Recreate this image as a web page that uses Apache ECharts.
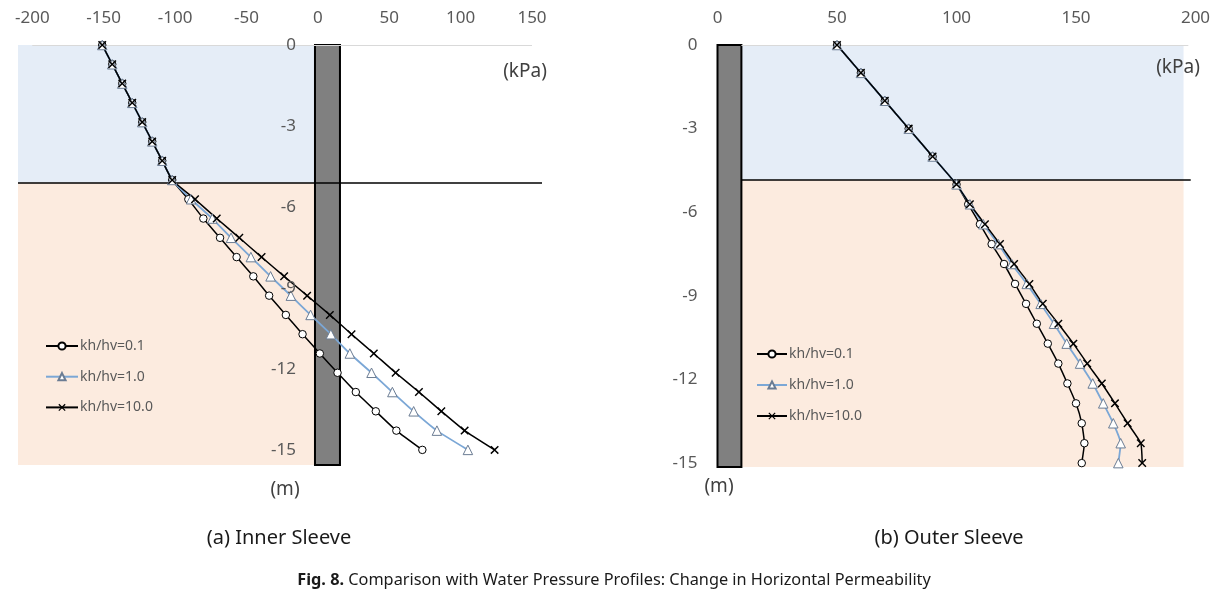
<!DOCTYPE html>
<html>
<head>
<meta charset="utf-8">
<script src="https://cdn.jsdelivr.net/npm/echarts@6/dist/echarts.min.js"></script>
<style>html,body{margin:0;padding:0;background:#fff}#c{width:1228px;height:602px}</style>
</head>
<body>
<div id="c"></div>
<script>
// ---- Data (kPa vs depth m) ----
const seriesNames = ['kh/hv=0.1', 'kh/hv=1.0', 'kh/hv=10.0'];
const xTickLabelsInner = [-200, -150, -100, -50, 0, 50, 100, 150];
const xTickLabelsOuter = [0, 50, 100, 150, 200];
const yTickLabels = [0, -3, -6, -9, -12, -15];

const innerDepth = [0, -0.714, -1.429, -2.143, -2.857, -3.571, -4.286, -5,
  -5.714, -6.429, -7.143, -7.857, -8.571, -9.286, -10, -10.714, -11.429, -12.143, -12.857, -13.571, -14.286, -15];
const innerK01 = [-151, -144, -137, -130, -123, -116, -109, -102,
  -90.7, -80.2, -68.5, -56.9, -45.2, -34.1, -22.4, -10.7, 1.4, 13.8, 26.6, 40.6, 55, 73.2];
const innerK1 = [-151, -144, -137, -130, -123, -116, -109, -102,
  -88.8, -73.9, -60.8, -46.9, -33.1, -18.9, -5.1, 9.1, 22.4, 37.6, 52.2, 67.1, 83.4, 105.1];
const innerK10 = [-151, -144, -137, -130, -123, -116, -109, -102,
  -86, -70.8, -55, -39.4, -23.6, -7.5, 8.4, 23.6, 39.2, 54.5, 70.8, 86.5, 102.8, 123.8];

const outerDepth = [0, -1, -2, -3, -4, -5,
  -5.714, -6.429, -7.143, -7.857, -8.571, -9.286, -10, -10.714, -11.429, -12.143, -12.857, -13.571, -14.286, -15];
const outerK01 = [50, 60, 70, 80, 90, 100,
  104.9, 109.8, 114.7, 119.9, 124.5, 129.1, 133.6, 138.2, 142.6, 146.4, 150.0, 152.4, 153.5, 152.4];
const outerK1 = [50, 60, 70, 80, 90, 100,
  105.6, 111.2, 117.5, 123.1, 129.4, 135.2, 140.8, 146.1, 151.7, 157.0, 161.4, 165.6, 168.7, 167.7];
const outerK10 = [50, 60, 70, 80, 90, 100,
  105.6, 111.9, 118.2, 124.1, 130.5, 136.1, 142.6, 148.9, 154.7, 160.8, 166.3, 171.6, 177.1, 177.7];

// ---- Styling ----
const FONT = 'Noto Sans';
const AXIS_TXT = '#595959';
const BLUE_BG = '#E5EDF7';
const ORANGE_BG = '#FCEBDF';
const WALL = '#808080';
const XSYM = 'path://M0,1.2L1.2,0L5,3.8L8.8,0L10,1.2L6.2,5L10,8.8L8.8,10L5,6.2L1.2,10L0,8.8L3.8,5Z';

const zip = (xs, ys) => xs.map((x, i) => [x, ys[i]]);

function dataSeries(gi, xs, ys, kind) {
  const base = {
    type: 'line', xAxisIndex: gi, yAxisIndex: gi, z: 5,
    data: zip(xs, ys), animation: false, smooth: 0.15,
    name: seriesNames[kind]
  };
  if (kind === 0) {
    return Object.assign(base, {
      symbol: 'circle', symbolSize: 7.5,
      lineStyle: { color: '#000', width: 1.5 },
      itemStyle: { color: '#fff', borderColor: '#000', borderWidth: 1 }
    });
  } else if (kind === 1) {
    return Object.assign(base, {
      symbol: 'triangle', symbolSize: 9.5,
      lineStyle: { color: '#7BA7D6', width: 1.8 },
      itemStyle: { color: '#fff', borderColor: '#6B7C93', borderWidth: 1 }
    });
  }
  return Object.assign(base, {
    symbol: XSYM, symbolSize: 8.5,
    lineStyle: { color: '#000', width: 1.5 },
    itemStyle: { color: '#000', borderWidth: 0 }
  });
}

function bgSeries(gi, xL, wallL, wallR, xR, yBot, ySurf, lineL, lineR, gridL, gridR) {
  return {
    type: 'line', xAxisIndex: gi, yAxisIndex: gi, data: [], z: 1, silent: true, animation: false,
    markArea: {
      silent: true,
      label: { show: false },
      data: [
        [{ xAxis: xL, yAxis: 0, itemStyle: { color: BLUE_BG } }, { xAxis: xR, yAxis: ySurf }],
        [{ xAxis: xL, yAxis: ySurf, itemStyle: { color: ORANGE_BG } }, { xAxis: xR, yAxis: yBot }],
        [{ xAxis: wallL, yAxis: 0, itemStyle: { color: WALL, borderColor: '#000', borderWidth: 2 } }, { xAxis: wallR, yAxis: yBot }]
      ]
    },
    markLine: {
      silent: true, symbol: 'none', label: { show: false },
      data: [
        [{ coord: [gridL, 0], lineStyle: { color: '#D9D9D9', width: 1, type: 'solid' } }, { coord: [gridR, 0] }],
        [{ coord: [lineL, ySurf], lineStyle: { color: '#000', width: 1.5, type: 'solid' } }, { coord: [lineR, ySurf] }]
      ]
    }
  };
}

const axisLabelBase = { color: AXIS_TXT, fontSize: 17, fontFamily: FONT };
const legendText = { color: AXIS_TXT, fontSize: 14, fontFamily: FONT, lineHeight: 16, padding: [0, 0, 0, -3] };
const capStyle = { fontSize: 20, fontWeight: 'normal', color: '#1a1a1a', fontFamily: FONT };

const option = {
  animation: false,
  backgroundColor: '#fff',
  grid: [
    { left: 18, top: 45, width: 524, height: 420 },
    { left: 717.5, top: 45, width: 478, height: 422 }
  ],
  xAxis: [
    {
      gridIndex: 0, type: 'value', position: 'top', min: -210, max: 157, z: 10,
      axisLine: { show: false }, axisTick: { show: false }, splitLine: { show: false },
      axisLabel: Object.assign({ margin: 18, customValues: xTickLabelsInner }, axisLabelBase)
    },
    {
      gridIndex: 1, type: 'value', position: 'top', min: 0, max: 200, interval: 50, z: 10,
      axisLine: { show: false }, axisTick: { show: false }, splitLine: { show: false },
      axisLabel: Object.assign({ margin: 18 }, axisLabelBase)
    }
  ],
  yAxis: [
    {
      gridIndex: 0, type: 'value', position: 'left', offset: -300, min: -15.56, max: 0, z: 10,
      axisLine: { show: false }, axisTick: { show: false }, splitLine: { show: false },
      axisLabel: Object.assign({ margin: 22, customValues: yTickLabels }, axisLabelBase)
    },
    {
      gridIndex: 1, type: 'value', position: 'left', min: -15.14, max: 0, z: 10,
      axisLine: { show: false }, axisTick: { show: false }, splitLine: { show: false },
      axisLabel: Object.assign({ margin: 20, customValues: yTickLabels }, axisLabelBase)
    }
  ],
  legend: [
    {
      orient: 'vertical', left: 45, top: 338, padding: 0, data: seriesNames,
      itemWidth: 32, itemHeight: 9, itemGap: 14.7, selectedMode: false, z: 10,
      textStyle: legendText
    },
    {
      orient: 'vertical', left: 756, top: 346, padding: 0, data: seriesNames,
      itemWidth: 30, itemHeight: 9, itemGap: 15, selectedMode: false, z: 10,
      textStyle: legendText
    }
  ],
  title: [
    { text: '(a) Inner Sleeve', left: 274, top: 523, textAlign: 'center', textStyle: capStyle },
    { text: '(b) Outer Sleeve', left: 944, top: 523, textAlign: 'center', textStyle: capStyle },
    { text: '{b|Fig. 8.} Comparison with Water Pressure Profiles: Change in Horizontal Permeability',
      left: 609, top: 567, textAlign: 'center',
      textStyle: { fontSize: 16.3, fontWeight: 'normal', color: '#1a1a1a', fontFamily: FONT,
        rich: { b: { fontSize: 16.3, fontWeight: 'bold', color: '#1a1a1a', fontFamily: FONT } } } }
  ],
  graphic: [
    { type: 'text', x: 525, y: 72, z: 100, style: { text: '(kPa)', fontSize: 19, fill: '#404040', fontFamily: FONT, textAlign: 'center', textVerticalAlign: 'middle' } },
    { type: 'text', x: 1178, y: 68, z: 100, style: { text: '(kPa)', fontSize: 19, fill: '#404040', fontFamily: FONT, textAlign: 'center', textVerticalAlign: 'middle' } },
    { type: 'text', x: 285, y: 490, z: 100, style: { text: '(m)', fontSize: 19, fill: '#404040', fontFamily: FONT, textAlign: 'center', textVerticalAlign: 'middle' } },
    { type: 'text', x: 719, y: 487, z: 100, style: { text: '(m)', fontSize: 19, fill: '#404040', fontFamily: FONT, textAlign: 'center', textVerticalAlign: 'middle' } }
  ],
  series: [
    bgSeries(0, -210, -2, 15.5, -2, -15.56, -5.1, -210, 157, -200, 150),
    dataSeries(0, innerK01, innerDepth, 0),
    dataSeries(0, innerK1, innerDepth, 1),
    dataSeries(0, innerK10, innerDepth, 2),
    bgSeries(1, 10, 0, 10, 195, -15.14, -4.84, 10, 198, 10, 197),
    dataSeries(1, outerK01, outerDepth, 0),
    dataSeries(1, outerK1, outerDepth, 1),
    dataSeries(1, outerK10, outerDepth, 2)
  ]
};

const chart = echarts.init(document.getElementById('c'), null, { renderer: 'canvas' });
chart.setOption(option);
</script>
</body>
</html>
